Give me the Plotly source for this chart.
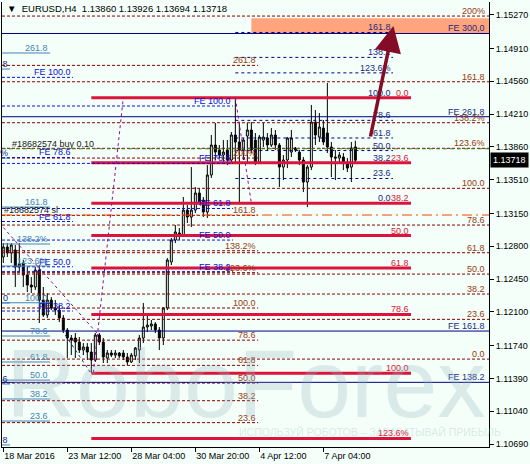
import plotly.graph_objects as go

BG = "#F3FFF8"
FONT = "Liberation Sans, Arial, sans-serif"

# ---------------- candle data (H4 bars, index = bar number) ----------------
opens = [1.12685,1.12792,1.12728,1.12760,1.12578,1.12621,1.12493,1.12386,1.12365,1.12546,
         1.12226,1.12066,1.12226,1.12141,1.12119,1.12034,1.11906,1.11821,1.11821,1.11778,
         1.11693,1.11725,1.11671,1.11586,1.11853,1.11778,1.11607,1.11661,1.11639,1.11661,
         1.11661,1.11618,1.11565,1.11629,1.11693,1.11821,1.11938,1.11949,1.11970,1.11906,
         1.11821,1.12141,1.12632,1.12866,1.12941,1.12909,1.13186,1.13112,1.13186,1.13368,
         1.13293,1.13165,1.13560,1.13880,1.13827,1.13773,1.13827,1.13720,1.13987,1.13912,
         1.13827,1.13976,1.14040,1.13933,1.13698,1.13933,1.13955,1.13880,1.13987,1.13880,
         1.13645,1.13720,1.13805,1.13848,1.13805,1.13720,1.13485,1.13645,1.14125,1.13965,
         1.14061,1.14008,1.13859,1.13752,1.13741,1.13752,1.13688,1.13645,1.13860]
highs = [1.12834,1.12834,1.12834,1.12813,1.12834,1.12653,1.12578,1.12471,1.12578,1.12599,
         1.12365,1.12301,1.12258,1.12226,1.12173,1.12066,1.11927,1.11853,1.11874,1.11831,
         1.11767,1.11767,1.11767,1.11874,1.11874,1.11821,1.11693,1.11693,1.11693,1.11671,
         1.11693,1.11661,1.11661,1.11725,1.11853,1.12194,1.12066,1.12013,1.11991,1.11938,
         1.12151,1.12674,1.12888,1.13026,1.12994,1.13325,1.13240,1.13645,1.13432,1.13421,
         1.13325,1.13666,1.13987,1.14115,1.13880,1.13933,1.13933,1.14019,1.14385,1.14115,
         1.13955,1.14115,1.14125,1.14008,1.13987,1.14115,1.14008,1.14061,1.14040,1.13901,
         1.13773,1.13965,1.14040,1.13859,1.13827,1.13752,1.13666,1.14307,1.14253,1.14221,
         1.14147,1.14541,1.13912,1.13827,1.13805,1.13795,1.13741,1.13912,1.13926]
lows = [1.12621,1.12685,1.12621,1.12365,1.12525,1.12365,1.12311,1.12301,1.12333,1.11981,
        1.12045,1.12034,1.12119,1.12066,1.11991,1.11874,1.11607,1.11639,1.11607,1.11661,
        1.11639,1.11586,1.11447,1.11565,1.11746,1.11554,1.11554,1.11618,1.11607,1.11607,
        1.11586,1.11532,1.11554,1.11586,1.11554,1.11767,1.11885,1.11906,1.11874,1.11693,
        1.11746,1.12119,1.12599,1.12834,1.12866,1.12898,1.13048,1.13005,1.13154,1.13240,
        1.13112,1.13101,1.13528,1.13720,1.13741,1.13698,1.13666,1.13688,1.13688,1.13258,
        1.13720,1.13688,1.13795,1.13666,1.13688,1.13859,1.13827,1.13859,1.13827,1.13432,
        1.13506,1.13634,1.13752,1.13805,1.13666,1.13378,1.13218,1.13613,1.13880,1.13912,
        1.13880,1.13795,1.13538,1.13506,1.13698,1.13613,1.13592,1.13485,1.13694]
closes = [1.12792,1.12728,1.12813,1.12578,1.12610,1.12493,1.12386,1.12365,1.12546,1.12226,
          1.12066,1.12226,1.12141,1.12119,1.12034,1.11906,1.11821,1.11799,1.11778,1.11693,
          1.11725,1.11671,1.11586,1.11853,1.11778,1.11618,1.11661,1.11639,1.11661,1.11629,
          1.11618,1.11565,1.11639,1.11714,1.11821,1.11938,1.11959,1.11970,1.11906,1.11821,
          1.12141,1.12653,1.12866,1.12952,1.12909,1.13186,1.13112,1.13186,1.13368,1.13272,
          1.13165,1.13560,1.13880,1.13805,1.13773,1.13805,1.13720,1.13987,1.13912,1.13827,
          1.13933,1.14040,1.13827,1.13688,1.13965,1.13965,1.13880,1.13987,1.13880,1.13645,
          1.13720,1.13955,1.13955,1.13827,1.13720,1.13485,1.13645,1.14125,1.13987,1.14072,
          1.13912,1.13859,1.13752,1.13741,1.13773,1.13688,1.13634,1.13848,1.13718]
bars = list(range(len(opens)))

x_tick_bars = [0, 16, 32, 48, 64, 80]
x_tick_text = ["18 Mar 2016", "23 Mar 12:00", "28 Mar 04:00", "30 Mar 20:00", "4 Apr 12:00", "7 Apr 04:00"]
y_tick_vals = [1.15270, 1.14910, 1.14560, 1.14210, 1.13860, 1.13510, 1.13150,
               1.12800, 1.12450, 1.12100, 1.11740, 1.11390, 1.11040, 1.10690]
y_tick_text = ["%.5f" % v for v in y_tick_vals]
last_price = 1.13718
header = "\u25BC  EURUSD,H4  1.13860 1.13926 1.13694 1.13718"

# ---------------- drawn objects ----------------
fibA_labels = ["200%", "161.8", "138.2%", "123.6%", "100.0", "78.6", "61.8", "50.0", "38.2", "23.6", "0.0"]
fibA_prices = [1.15256, 1.14555, 1.14118, 1.13845, 1.13418, 1.13026, 1.12731, 1.12503, 1.12290, 1.12020, 1.11596]

fibB_labels = ["261.8", "200%", "161.8", "138.2%", "123.6%", "100.0", "78.6", "61.8", "50.0", "38.2", "23.6"]
fibB_prices = [1.14730, 1.13741, 1.13130, 1.12752, 1.12518, 1.12141, 1.11798, 1.11529, 1.11340, 1.11152, 1.10918]
fibB_end = 63.7

fibC_labels = ["161.8", "138.2", "123.6%", "100.0", "78.6", "61.8", "50.0", "38.2", "23.6", "0.0"]
fibC_prices = [1.15081, 1.14815, 1.14650, 1.14385, 1.14143, 1.13955, 1.13821, 1.13688, 1.13523, 1.13258]
fibC_start, fibC_end = 58, 97.4

fibD_labels = ["0.0", "23.6", "38.2", "50.0", "61.8", "78.6", "100.0", "123.6%"]
fibD_prices = [1.14385, 1.13691, 1.13258, 1.12914, 1.12568, 1.12073, 1.11444, 1.10750]
fibD_start, fibD_end = 22, 101.9

fe1_labels = ["FE 100.0", "FE 78.6", "FE 61.8", "FE 50.0", "FE 38.2"]
fe1_prices = [1.14602, 1.13747, 1.13064, 1.12581, 1.12109]
fe1_end = 17.4
fe2_labels = ["FE 100.0", "FE 78.6", "FE 61.8", "FE 50.0", "FE 38.2"]
fe2_prices = [1.14296, 1.13684, 1.13203, 1.12866, 1.12529]
fe2_end = 57.4

fibF_labels = ["261.8", "161.8", "138.2%", "123.6%", "100.0", "78.6", "61.8", "50.0", "38.2", "23.6"]
fibF_prices = [1.14862, 1.13218, 1.12824, 1.12589, 1.12197, 1.11842, 1.11565, 1.11372, 1.11170, 1.10935]
fibF_end = 11.7

fibG_labels = [".8", "%", "0", ".6", ".8"]
fibG_prices = [1.14691, 1.13741, 1.12194, 1.11330, 1.10680]
fibG_end = 1.7

feN_labels = ["FE 300,0", "FE 261.8", "FE 161.8", "FE 138.2"]
feN_prices = [1.15070, 1.14182, 1.11895, 1.11348]

buy_price = 1.13840
sl_price = 1.13133
target_box = (62, 1.15072, 1.15232)
arrow_tail = (91.7, 1.13955)
arrow_tip = (97.5, 1.15150)
dotted_lines = [((22.5, 1.11450), (30.0, 1.14385)),
                ((58.0, 1.14385), (62.0, 1.13258)),
                ((-1.0, 1.13048), (23.4, 1.11874))]
thin_line = ((15.5, 1.11853), (21.7, 1.11458))

X_MIN, X_MAX = -0.325, 121.4
Y_MIN, Y_MAX = 1.10658, 1.15406

shapes = []
annotations = []


def hline(y, x0, x1, color, width, dash, xref="x", layer="above"):
    shapes.append(dict(type="line", xref=xref, yref="y", x0=x0, x1=x1, y0=y, y1=y,
                       line=dict(color=color, width=width, dash=dash), layer=layer))


def label(x, y, text, color, xref="x", xanchor="right", xshift=0, yshift=-2, size=9):
    annotations.append(dict(x=x, y=y, xref=xref, yref="y", text=text, showarrow=False,
                            xanchor=xanchor, yanchor="bottom", xshift=xshift, yshift=yshift,
                            font=dict(family=FONT, size=size, color=color)))


# target rectangle
shapes.append(dict(type="rect", xref="x", yref="y", x0=target_box[0], x1=X_MAX,
                   y0=target_box[1], y1=target_box[2], fillcolor="#FFA47C",
                   line=dict(width=0), layer="below"))

MAROON = "#8B0000"
MAROON_TXT = "#9A3A12"
NAVY = "#000080"
NAVY_TXT = "#1C2A86"
CRIMSON = "#DC143C"
BLUE = "#1010D8"
STEEL = "#4682B4"

for p, t in zip(fibA_prices, fibA_labels):
    hline(p, 0, 1, MAROON, 1, "3px,2px", xref="paper")
    label(1, p, t, MAROON_TXT, xref="paper", xshift=-2)

for p, t in zip(fibB_prices, fibB_labels):
    hline(p, X_MIN, fibB_end, MAROON, 1, "3px,2px")
    label(fibB_end, p, t, MAROON_TXT)

for p, t in zip(feN_prices, feN_labels):
    hline(p, 0, 1, NAVY, 1, "solid", xref="paper")
    label(1, p, t, NAVY_TXT, xref="paper", xshift=-2)

for p, t in zip(fibC_prices, fibC_labels):
    hline(p, fibC_start, fibC_end, NAVY, 1, "3px,3px")
    label(fibC_end, p, t, NAVY_TXT)

for p, t in zip(fibD_prices, fibD_labels):
    hline(p, fibD_start, fibD_end, CRIMSON, 3, "solid")
    label(fibD_end, p, t, CRIMSON)

for p, t in zip(fe1_prices, fe1_labels):
    hline(p, X_MIN, fe1_end, BLUE, 1, "3px,2px")
    label(fe1_end, p, t, BLUE)

for p, t in zip(fe2_prices, fe2_labels):
    hline(p, X_MIN, fe2_end, BLUE, 1, "3px,2px")
    label(fe2_end, p, t, BLUE)

for p, t in zip(fibF_prices, fibF_labels):
    hline(p, X_MIN, fibF_end, STEEL, 1, "solid")
    label(fibF_end, p, t, STEEL)

for p, t in zip(fibG_prices, fibG_labels):
    hline(p, X_MIN, fibG_end, STEEL, 1, "solid")
    label(fibG_end, p, t, NAVY_TXT)

# order lines
hline(buy_price, 0, 1, "#2E8B22", 1, "4px,3px", xref="paper")
label(1.7, buy_price, "#18682574 buy 0.10", "#202020", xanchor="left")
hline(sl_price, 0, 1, "#FF4500", 1, "10px,4px,2px,4px", xref="paper")
label(0, sl_price, "#18682574 sl", "#202020", xref="paper", xanchor="left", xshift=0)

for (a, b) in dotted_lines:
    shapes.append(dict(type="line", xref="x", yref="y", x0=a[0], y0=a[1], x1=b[0], y1=b[1],
                       line=dict(color="#9A0A9A", width=1, dash="dot"), layer="above"))
shapes.append(dict(type="line", xref="x", yref="y", x0=thin_line[0][0], y0=thin_line[0][1],
                   x1=thin_line[1][0], y1=thin_line[1][1],
                   line=dict(color="#1C2A86", width=1, dash="dot"), layer="above"))

# arrow
annotations.append(dict(x=arrow_tip[0], y=arrow_tip[1], ax=arrow_tail[0], ay=arrow_tail[1],
                        xref="x", yref="y", axref="x", ayref="y", text="", showarrow=True,
                        arrowhead=2, arrowsize=1.5, arrowwidth=3.5, arrowcolor="#850C26"))

# watermark
annotations.append(dict(x=0.5, y=0.142, xref="paper", yref="paper", text="RoboForex",
                        showarrow=False, xanchor="center", yanchor="middle",
                        font=dict(family=FONT, size=97, color="rgba(150,180,190,0.28)")))
annotations.append(dict(x=0.483, y=0.033, xref="paper", yref="paper",
                        text="ИСПОЛЬЗУЙ РОБОТОВ – ЗАРАБАТЫВАЙ ПРИБЫЛЬ",
                        showarrow=False, xanchor="left", yanchor="middle",
                        font=dict(family=FONT, size=10.5, color="rgba(150,180,190,0.3)")))

# header
annotations.append(dict(x=0, y=1, xref="paper", yref="paper", text=header, showarrow=False,
                        xanchor="left", yanchor="top", xshift=3, yshift=1,
                        font=dict(family=FONT, size=9.5, color="#000000")))
# current price tag
annotations.append(dict(x=1, y=last_price, xref="paper", yref="y", text="%.5f" % last_price,
                        showarrow=False, xanchor="left", yanchor="middle", xshift=1,
                        bgcolor="#000000", borderpad=2,
                        font=dict(family=FONT, size=9, color="#FFFFFF")))

fig = go.Figure()
fig.add_trace(go.Candlestick(
    x=bars, open=opens, high=highs, low=lows, close=closes,
    increasing=dict(line=dict(color="#000000", width=1), fillcolor=BG),
    decreasing=dict(line=dict(color="#000000", width=1), fillcolor="#000000"),
    whiskerwidth=0, showlegend=False, hoverinfo="skip"))

fig.update_layout(
    width=530, height=464,
    margin=dict(l=2, r=41, t=2, b=17),
    paper_bgcolor=BG, plot_bgcolor=BG,
    showlegend=False,
    shapes=shapes, annotations=annotations,
    xaxis=dict(range=[X_MIN, X_MAX], tickvals=x_tick_bars, ticktext=x_tick_text,
               ticks="outside", ticklen=4, tickcolor="#000000", tickwidth=1,
               ticklabelposition="outside right",
               tickfont=dict(family=FONT, size=9, color="#000000"),
               showgrid=False, zeroline=False, showline=True, linecolor="#000000",
               linewidth=1, rangeslider=dict(visible=False), automargin=False,
               fixedrange=True),
    yaxis=dict(range=[Y_MIN, Y_MAX], side="right", tickvals=y_tick_vals, ticktext=y_tick_text,
               ticks="outside", ticklen=4, tickcolor="#000000", tickwidth=1,
               tickfont=dict(family=FONT, size=9, color="#000000"),
               showgrid=False, zeroline=False, showline=True, mirror=True,
               linecolor="#000000", linewidth=1, automargin=False, fixedrange=True),
)

fig.write_html("out.html", config={"displayModeBar": False},
               post_script="document.body.style.margin='0';document.body.style.background='%s';" % BG)
